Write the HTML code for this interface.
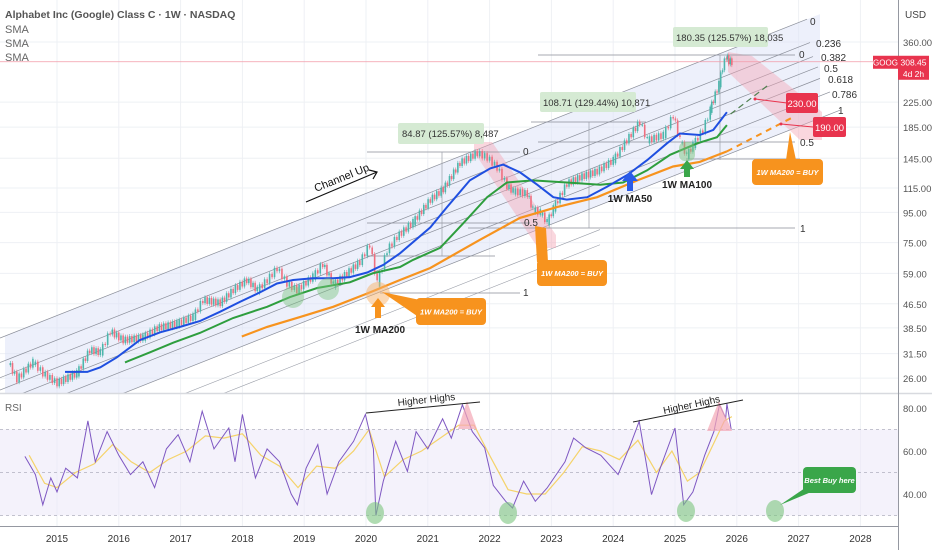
<!DOCTYPE html>
<html><head><meta charset="utf-8">
<style>
html,body{margin:0;padding:0;background:#fff;}
svg{display:block;font-family:"Liberation Sans",sans-serif;}
</style></head>
<body>
<svg id="chart" width="932" height="550" viewBox="0 0 932 550" xmlns="http://www.w3.org/2000/svg">
  <defs>
    <clipPath id="mainClip"><rect x="0" y="0" width="898" height="393"/></clipPath>
  </defs>
  <rect x="0" y="0" width="932" height="550" fill="#fff"/>
  <g id="grid"></g>
  <g id="main" clip-path="url(#mainClip)"></g>
  <g id="rsi"></g>
  <g id="axes"></g>
</svg>
<script>
// ---- price data (decimal year, close) ----
const priceDates = [2014.21,2014.35,2014.61,2014.77,2015.0,2015.32,2015.53,2015.70,2015.86,2016.07,2016.39,2016.62,2016.94,2017.20,2017.36,2017.64,2017.85,2018.07,2018.24,2018.40,2018.56,2018.72,2018.88,2019.14,2019.30,2019.47,2019.69,2019.90,2020.06,2020.18,2020.34,2020.50,2020.76,2021.04,2021.25,2021.52,2021.80,2021.96,2022.12,2022.28,2022.38,2022.61,2022.70,2022.82,2022.93,2023.03,2023.25,2023.46,2023.74,2024.0,2024.22,2024.43,2024.55,2024.81,2024.97,2025.08,2025.19,2025.29,2025.45,2025.57,2025.62,2025.71,2025.77,2025.83,2025.87,2025.92];
const priceValues = [29.5,25.8,29.5,27,25,27,32.4,31.8,37.5,35,35.7,38.5,39.8,42,47.9,46.8,51.8,56,51.8,56,61.5,54.5,51.8,57.5,63.5,54,59,64.5,74,54.5,70.8,78.5,88,105,114,140,151,146,135,117,112,110,97,95,88,98,119,125,131,143,167,193,167,174,203,167,148,161,181,212,229,259,296,322,310,308];
// ---- moving averages ----
const ma50Dates = [2015.13,2015.49,2015.70,2015.97,2016.34,2016.67,2016.99,2017.31,2017.64,2017.96,2018.28,2018.56,2018.82,2019.14,2019.47,2019.74,2020.02,2020.28,2020.55,2021.04,2021.31,2021.68,2022.01,2022.22,2022.49,2022.77,2023.03,2023.25,2023.58,2023.90,2024.22,2024.55,2024.87,2025.08,2025.40,2025.62,2025.84];
const ma50Values = [27.3,27.3,28.3,30.6,35,37.2,38.8,40.6,43.7,47.2,50.8,54.5,56,56.8,56.8,57.3,59.4,63,69,84.5,99,122,134,138,130,118,107,105,107,116,127,143,163,176,174,181,208];
const ma100Dates = [2016.10,2016.50,2016.88,2017.31,2017.85,2018.40,2018.77,2019.21,2019.74,2020.11,2020.55,2020.76,2021.20,2021.57,2021.96,2022.28,2022.70,2023.25,2023.79,2024.16,2024.55,2024.92,2025.36,2025.68,2025.84];
const ma100Values = [29.4,31.8,34.3,37,41.6,45.4,49,52.6,55,59,62,65.5,72,87,107,120,122,120,118,120,132,149,163,171,188];
const ma200Dates = [2017.99,2018.40,2018.93,2019.47,2020.02,2020.55,2021.04,2021.84,2022.49,2023.09,2023.74,2024.39,2024.97,2025.40,2025.84];
const ma200Values = [36,38.8,41.9,45.4,50.4,56,61.5,76.6,91,99,107,122,136,141,153];
const ma200ProjDates = [2025.84,2026.91];
const ma200ProjValues = [153,200];
const ma100ProjDates = [2025.90,2026.52];
const ma100ProjValues = [205,258];
// ---- RSI ----
const rsiDates = [2014.48,2014.65,2014.77,2014.9,2015.0,2015.14,2015.33,2015.5,2015.62,2015.81,2016.0,2016.19,2016.39,2016.58,2016.77,2016.96,2017.15,2017.35,2017.54,2017.78,2017.88,2018.0,2018.21,2018.4,2018.6,2018.79,2018.89,2019.03,2019.22,2019.37,2019.56,2019.8,2019.99,2020.12,2020.16,2020.28,2020.48,2020.67,2020.81,2021.0,2021.24,2021.38,2021.56,2021.72,2021.92,2022.06,2022.26,2022.37,2022.55,2022.74,2022.93,2023.22,2023.36,2023.56,2023.8,2024.08,2024.28,2024.42,2024.62,2024.76,2025.0,2025.14,2025.29,2025.48,2025.63,2025.72,2025.82,2025.84,2025.91];
const rsiValues = [57.5,49,35,47.5,41,52,47.5,74,55,69,58,49,55,43,61,67.6,55,78.5,61,70.7,55,77,47.5,61,55,40,35,52,63,40,55,64.5,77,61,30,46,64.5,50.5,69,61,75,66,81.5,69,61.4,44,36.6,33.5,46,36.6,42.8,55,66,61.4,58,49,63,73.8,39.7,52,70.7,35,41,58,69,81.5,75.3,82,70];
const rsiMaDates = [2014.55,2014.8,2015.0,2015.3,2015.6,2015.9,2016.2,2016.5,2016.8,2017.1,2017.4,2017.7,2018.0,2018.3,2018.6,2018.9,2019.2,2019.5,2019.8,2020.05,2020.3,2020.6,2020.9,2021.2,2021.5,2021.75,2022.0,2022.3,2022.6,2022.9,2023.2,2023.5,2023.8,2024.1,2024.4,2024.7,2024.95,2025.2,2025.4,2025.6,2025.8,2025.92];
const rsiMaValues = [58,45,43,50,54,63,55,50,56,60,67,66,68,58,53,43,53,52,60,70,48,56,60,66,72,72,58,42,40,40,50,62,60,56,65,50,60,46,50,62,74,76];
// ---- axis ticks ----
const priceTicks = [360,225,185,145,115,95,75,59,46.5,38.5,31.5,26];
const priceTickLabels = ["360.00","225.00","185.00","145.00","115.00","95.00","75.00","59.00","46.50","38.50","31.50","26.00"];
const rsiTicks = [80,60,40];
const rsiTickLabels = ["80.00","60.00","40.00"];
const yearTicks = [2015,2016,2017,2018,2019,2020,2021,2022,2023,2024,2025,2026,2027,2028];
const channelLevels = [0,0.236,0.382,0.5,0.618,0.786,1];
const lastPrice = 308.45;

const NS = "http://www.w3.org/2000/svg";
function xT(t){ return 57 + (t - 2015) * 61.8; }
function yP(p){ return 42 + (Math.log(360) - Math.log(p)) * 127.9; }
function yR(r){ return 408 + (80 - r) * 2.15; }
function mk(parent, tag, attrs, text){
  const e = document.createElementNS(NS, tag);
  for (const k in attrs) e.setAttribute(k, attrs[k]);
  if (text !== undefined) e.textContent = text;
  parent.appendChild(e);
  return e;
}
function pts(ds, vs, fy){ return ds.map((d,i)=> xT(d).toFixed(1)+","+fy(vs[i]).toFixed(1)).join(" "); }

const grid = document.getElementById("grid");
const main = document.getElementById("main");
const rsiG = document.getElementById("rsi");
const axes = document.getElementById("axes");

yearTicks.forEach(y=>{
  const l = mk(grid,"line",{x1:xT(y),x2:xT(y),y1:0,y2:526,stroke:"#eef0f4","stroke-width":1});
  
  
});
priceTicks.forEach(p=>{
  const l = mk(grid,"line",{x1:0,x2:898,y1:yP(p),y2:yP(p),stroke:"#eef0f4","stroke-width":1});
  
  
});

function chY(x, lvl){ return 338 - 0.395 * x + lvl * 104; }
const band = mk(main,"polygon",{points:`5,${chY(5,0)} 820,${chY(820,0)} 820,${chY(820,1)} 5,${chY(5,1)}`,fill:"#dfe4f8","fill-opacity":0.55});


channelLevels.forEach((lv,i)=>{
  const xe = [807,810,813,818,820,830,840][i];
  const l = mk(main,"line",{x1:0,y1:chY(0,lv),x2:xe,y2:chY(xe,lv),stroke:"#8a8e99","stroke-width":0.7});
  
  
});
[1.236,1.382].forEach(lv=>{
  const l = mk(main,"line",{x1:0,y1:chY(0,lv),x2:600,y2:chY(600,lv),stroke:"#9a9ea8","stroke-width":0.6});
  
  
});

const z1 = mk(main,"polygon",{points:"474,142 492,142 556,235 556,248 538,248 474,152",fill:"#f4a7b5","fill-opacity":0.45});


const z2 = mk(main,"polygon",{points:"728,52 752,56 822,112 822,140 800,140 728,72",fill:"#f4a7b5","fill-opacity":0.45});



[[367,520,152],[367,530,223],[367,495,256],[380,520,293],[538,795,55],[538,795,142],[686,800,159],[468,795,228],[531,646,122]].forEach(h=>{
  const l = mk(main,"line",{x1:h[0],x2:h[1],y1:h[2],y2:h[2],stroke:"#8a8e99","stroke-width":0.8});
  
  
});
[[442,152,256],[589,122,228],[720,55,160]].forEach(v=>{
  const l = mk(main,"line",{x1:v[0],x2:v[0],y1:v[1],y2:v[2],stroke:"#9a9ea8","stroke-width":0.7});
  
  
});
const lp = mk(main,"line",{x1:0,x2:898,y1:yP(lastPrice),y2:yP(lastPrice),stroke:"#f29aa8","stroke-width":0.8});



for (let i=1;i<priceDates.length;i++){
  const o = priceValues[i-1], c = priceValues[i];
  const x0 = xT(priceDates[i-1]), x1 = xT(priceDates[i]);
  const n = Math.max(2, Math.round((x1-x0)/2.2));
  for (let k=1;k<=n;k++){
    const f0 = (k-1)/n, f1 = k/n;
    const wig = (k%2===0?1:-1)*0.025;
    const po = Math.exp(Math.log(o)+(Math.log(c)-Math.log(o))*f0 + wig);
    const pc = Math.exp(Math.log(o)+(Math.log(c)-Math.log(o))*f1 - wig);
    const xx = x0 + (x1-x0)*f1;
    const yt = Math.min(yP(po),yP(pc)), yb = Math.max(yP(po),yP(pc));
    const cc = pc >= po ? "#4db6ac" : "#ef6f7f";
    const w = mk(main,"line",{x1:xx,x2:xx,y1:yt-2,y2:yb+2,stroke:cc,"stroke-width":0.6});
    
    
    const b = mk(main,"rect",{x:xx-0.8,y:yt,width:1.6,height:Math.max(1,yb-yt),fill:cc});
    
    
  }
}

const l200 = mk(main,"polyline",{points:pts(ma200Dates,ma200Values,yP),fill:"none",stroke:"#f7931e","stroke-width":2.2});


const l200p = mk(main,"polyline",{points:pts(ma200ProjDates,ma200ProjValues,yP),fill:"none",stroke:"#f7931e","stroke-width":2,"stroke-dasharray":"6,5"});


const l100p = mk(main,"polyline",{points:pts(ma100ProjDates,ma100ProjValues,yP),fill:"none",stroke:"#4f7f4f","stroke-width":1.2,"stroke-dasharray":"6,4"});


const l100 = mk(main,"polyline",{points:pts(ma100Dates,ma100Values,yP),fill:"none",stroke:"#2e9e3e","stroke-width":2});


const l50 = mk(main,"polyline",{points:pts(ma50Dates,ma50Values,yP),fill:"none",stroke:"#1f4fe0","stroke-width":2});



const rb = mk(rsiG,"rect",{x:0,y:yR(70),width:898,height:yR(30)-yR(70),fill:"#ede9f8","fill-opacity":0.6});


[70,50,30].forEach(v=>{
  const l = mk(rsiG,"line",{x1:0,x2:898,y1:yR(v),y2:yR(v),stroke:"#b0b0c0","stroke-width":0.7,"stroke-dasharray":"3,3"});
  
  
});
const rma = mk(rsiG,"polyline",{points:pts(rsiMaDates,rsiMaValues,yR),fill:"none",stroke:"#f5d36a","stroke-width":1.2});


const rl = mk(rsiG,"polyline",{points:pts(rsiDates,rsiValues,yR),fill:"none",stroke:"#7e57c2","stroke-width":1});



const sep1 = mk(axes,"line",{x1:0,x2:932,y1:393.5,y2:393.5,stroke:"#d8dadf","stroke-width":1.5});


const sep2 = mk(axes,"line",{x1:0,x2:898,y1:526.5,y2:526.5,stroke:"#9598a1","stroke-width":1});


const sep3 = mk(axes,"line",{x1:898.5,x2:898.5,y1:0,y2:550,stroke:"#9598a1","stroke-width":1});


priceTicks.forEach((p,i)=>{
  const t = mk(axes,"text",{x:903,y:yP(p)+4,"font-size":"9.5","fill":"#555"},priceTickLabels[i]);
  
  
});
rsiTicks.forEach((r,i)=>{
  const t = mk(axes,"text",{x:903,y:yR(r)+4,"font-size":"9.5","fill":"#555"},rsiTickLabels[i]);
  
  
});
yearTicks.forEach(y=>{
  const t = mk(axes,"text",{x:xT(y),y:542,"font-size":"10","fill":"#333","text-anchor":"middle"},String(y));
  
  
});
const lpy = yP(lastPrice);
const tag1 = mk(axes,"rect",{x:873,y:lpy-6,width:25,height:13,fill:"#e8344e"});


const tag1t = mk(axes,"text",{x:885.5,y:lpy+3.5,"font-size":"8","fill":"#fff","text-anchor":"middle"},"GOOG");


const tag2 = mk(axes,"rect",{x:898,y:lpy-6,width:31,height:24,fill:"#e8344e"});


const tag2t = mk(axes,"text",{x:913.5,y:lpy+3.5,"font-size":"8.5","fill":"#fff","text-anchor":"middle"},"308.45");


const tag3t = mk(axes,"text",{x:913.5,y:lpy+15,"font-size":"8.5","fill":"#fff","text-anchor":"middle"},"4d 2h");


</script>
<svg style="position:absolute;left:0;top:0" width="932" height="550" viewBox="0 0 932 550" font-family="Liberation Sans, sans-serif">
  <g font-size="11" fill="#333">
    <text x="5" y="18" font-size="10.5" font-weight="bold" fill="#555">Alphabet Inc (Google) Class C · 1W · NASDAQ</text>
    <text x="5" y="33" fill="#666">SMA</text>
    <text x="5" y="47" fill="#666">SMA</text>
    <text x="5" y="61" fill="#666">SMA</text>
    <text x="905" y="18" font-size="10" fill="#444">USD</text>
    <text x="5" y="411" font-size="10" fill="#666">RSI</text>
  </g>
  <g font-size="10" fill="#333">
    <text x="810" y="25">0</text><text x="816" y="47">0.236</text><text x="821" y="61">0.382</text>
    <text x="824" y="72">0.5</text><text x="828" y="83">0.618</text><text x="832" y="98">0.786</text>
    <text x="838" y="114">1</text><text x="799" y="58">0</text><text x="800" y="146">0.5</text>
    <text x="800" y="232">1</text><text x="523" y="155">0</text><text x="524" y="226">0.5</text><text x="523" y="296">1</text>
  </g>
  <g font-size="9.5" fill="#333">
    <rect x="398" y="123" width="86" height="21" rx="2" fill="#d5ead3"/><text x="402" y="137">84.87 (125.57%) 8,487</text>
    <rect x="540" y="92" width="96" height="20" rx="2" fill="#d5ead3"/><text x="543" y="106">108.71 (129.44%) 10,871</text>
    <rect x="673" y="27" width="95" height="20" rx="2" fill="#d5ead3"/><text x="676" y="41">180.35 (125.57%) 18,035</text>
  </g>
  <g>
    <line x1="755" y1="99" x2="787" y2="103" stroke="#e8344e"/><circle cx="755" cy="99" r="1.5" fill="#e8344e"/>
    <rect x="786" y="93" width="32" height="20" rx="2" fill="#e8344e"/><text x="802" y="107" font-size="9.5" fill="#fff" text-anchor="middle">230.00</text>
    <line x1="781" y1="124" x2="813" y2="127" stroke="#e8344e"/><circle cx="781" cy="124" r="1.5" fill="#e8344e"/>
    <rect x="813" y="117" width="33" height="20" rx="2" fill="#e8344e"/><text x="829.5" y="131" font-size="9.5" fill="#fff" text-anchor="middle">190.00</text>
  </g>
  <g>
    <circle cx="293" cy="297" r="11" fill="#7bc47f" fill-opacity="0.45"/>
    <circle cx="328" cy="289" r="11" fill="#7bc47f" fill-opacity="0.45"/>
    <circle cx="378" cy="294" r="12" fill="#f7b26a" fill-opacity="0.5"/>
    <rect x="679" y="142" width="16" height="19" rx="6" fill="#7bc47f" fill-opacity="0.5"/>
  </g>
  <g font-size="10" font-weight="bold" fill="#222">
    <polygon points="378,298 371,307 375,307 375,318 381,318 381,307 385,307" fill="#f7931e"/>
    <text x="380" y="333" text-anchor="middle">1W MA200</text>
    <polygon points="630,171 622,181 627,181 627,191 633,191 633,181 638,181" fill="#2a5be8"/>
    <text x="630" y="202" text-anchor="middle">1W MA50</text>
    <polygon points="687,160 680,169 684,169 684,177 690,177 690,169 694,169" fill="#3aa64a"/>
    <text x="687" y="188" text-anchor="middle">1W MA100</text>
  </g>
  <g font-size="7.5" font-style="italic" font-weight="bold" fill="#fff">
    <polygon points="382,292 420,300 420,318" fill="#f7931e"/>
    <rect x="416" y="298" width="70" height="27" rx="4" fill="#f7931e"/><text x="451" y="314.5" text-anchor="middle">1W MA200 = BUY</text>
    <polygon points="535,226 546,228 548,262 537,262" fill="#f7931e"/>
    <rect x="537" y="260" width="70" height="26" rx="4" fill="#f7931e"/><text x="572" y="276" text-anchor="middle">1W MA200 = BUY</text>
    <polygon points="790,132 786,160 796,160" fill="#f7931e"/>
    <rect x="752" y="159" width="71" height="26" rx="4" fill="#f7931e"/><text x="787.5" y="175" text-anchor="middle">1W MA200 = BUY</text>
  </g>
  <g>
    <line x1="306" y1="202" x2="377" y2="172" stroke="#111" stroke-width="1.2"/>
    <polyline points="369,170 377,172 373,179" fill="none" stroke="#111" stroke-width="1.2"/>
    <text x="316" y="192" font-size="11" fill="#111" transform="rotate(-22 316 192)">Channel Up</text>
  </g>
  <g>
    <polygon points="467,401 458,429 477,429" fill="#f4a7b5" fill-opacity="0.7"/>
    <polygon points="719,401 707,431 732,431" fill="#f4a7b5" fill-opacity="0.7"/>
    <line x1="366" y1="413" x2="480" y2="402" stroke="#222" stroke-width="1"/>
    <text x="398" y="406" font-size="10" fill="#222" transform="rotate(-6 398 406)">Higher Highs</text>
    <line x1="633" y1="422" x2="743" y2="400" stroke="#222" stroke-width="1"/>
    <text x="664" y="414" font-size="10" fill="#222" transform="rotate(-12 664 414)">Higher Highs</text>
    <ellipse cx="375" cy="513" rx="9" ry="11" fill="#7bc47f" fill-opacity="0.6"/>
    <ellipse cx="508" cy="513" rx="9" ry="11" fill="#7bc47f" fill-opacity="0.6"/>
    <ellipse cx="686" cy="511" rx="9" ry="11" fill="#7bc47f" fill-opacity="0.6"/>
    <ellipse cx="775" cy="511" rx="9" ry="11" fill="#7bc47f" fill-opacity="0.6"/>
    <polygon points="780,505 808,486 816,490" fill="#3aa64a"/>
    <rect x="803" y="467" width="53" height="26" rx="4" fill="#3aa64a"/>
    <text x="829.5" y="483" font-size="7.5" font-style="italic" font-weight="bold" fill="#fff" text-anchor="middle">Best Buy here</text>
  </g>
</svg>
</body></html>
